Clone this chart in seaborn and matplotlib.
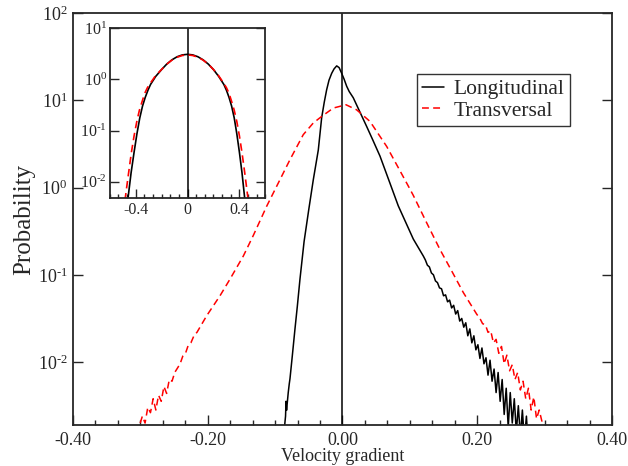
import matplotlib
matplotlib.use("Agg")
import matplotlib.pyplot as plt
import seaborn as sns
import pandas as pd
from matplotlib.ticker import MultipleLocator, NullLocator

sns.set_style("ticks")
plt.rcParams["font.family"] = ["Liberation Serif", "DejaVu Serif"]
plt.rcParams["mathtext.fontset"] = "custom"
plt.rcParams["mathtext.rm"] = "Liberation Serif"
plt.rcParams["axes.unicode_minus"] = False

# ── main panel data (velocity gradient, probability) ──────────────────────
long_x = [-0.0870, -0.0855, -0.0845, -0.0838, -0.0830, -0.0805, -0.0790, -0.0779,
          -0.0745, -0.0705, -0.0670, -0.0631, -0.0570, -0.0500, -0.0433, -0.0359,
          -0.0309, -0.0270, -0.0235, -0.0200, -0.0160, -0.0125, -0.0086, -0.0050,
          -0.0012, 0.0025, 0.0062, 0.0100, 0.0160, 0.0250, 0.0359, 0.0450,
          0.0557, 0.0705, 0.0828, 0.1051, 0.1200,
          0.123, 0.126, 0.129, 0.132, 0.135, 0.138, 0.141, 0.144, 0.147, 0.150,
          0.153, 0.156, 0.159, 0.162, 0.165, 0.168, 0.171, 0.174, 0.177, 0.180,
          0.183, 0.186, 0.189, 0.192, 0.195, 0.198, 0.201, 0.204, 0.207, 0.210,
          0.213, 0.216, 0.219, 0.222, 0.225, 0.228, 0.231, 0.234, 0.237, 0.240,
          0.243, 0.246, 0.249, 0.252, 0.255, 0.258, 0.261, 0.264, 0.267, 0.270,
          0.273, 0.276]
long_p = [0.00126, 0.0020, 0.0024, 0.00355, 0.0028, 0.00447, 0.00562, 0.00646,
          0.0117, 0.0240, 0.0437, 0.0891, 0.240, 0.562, 1.23, 2.69,
          6.31, 9.55, 13.2, 17.0, 20.4, 22.9, 24.8, 23.7,
          20.4, 17.4, 14.5, 12.6, 10.7, 7.59, 5.01, 3.51,
          2.29, 1.12, 0.617, 0.257, 0.164,
          0.148, 0.129, 0.123, 0.105, 0.100, 0.0851, 0.0813, 0.0708, 0.0692, 0.0575,
          0.0589, 0.0490, 0.0513, 0.0417, 0.0447, 0.0355, 0.0389, 0.0295, 0.0316, 0.0251,
          0.0282, 0.0200, 0.0240, 0.0166, 0.0200, 0.0138, 0.0158, 0.0110, 0.0145, 0.00955,
          0.0112, 0.00708, 0.0105, 0.00603, 0.00832, 0.00447, 0.00759, 0.00355, 0.00631, 0.00251,
          0.00501, 0.00178, 0.00447, 0.00200, 0.00380, 0.00158, 0.00316, 0.00141, 0.00282, 0.00126,
          0.00240, 0.00100]

trans_x = [-0.306, -0.301, -0.297, -0.293, -0.289, -0.285, -0.281, -0.277, -0.273,
           -0.269, -0.265, -0.261, -0.257, -0.253, -0.249, -0.245, -0.241, -0.237,
           -0.233, -0.229, -0.225, -0.220, -0.216, -0.2016, -0.1818, -0.167, -0.1472,
           -0.1324, -0.1125, -0.0928, -0.0779, -0.0582, -0.0433, -0.0309, -0.0136,
           0.0052, 0.021, 0.0408, 0.0656, 0.0804, 0.0977, 0.1051, 0.125, 0.1447,
           0.162, 0.1793, 0.1992,
           0.204, 0.208, 0.212, 0.216, 0.220, 0.224, 0.228, 0.232, 0.236, 0.240,
           0.244, 0.248, 0.252, 0.256, 0.260, 0.264, 0.268, 0.272, 0.276, 0.280,
           0.284, 0.288, 0.292, 0.296, 0.300]
trans_p = [0.00112, 0.00191, 0.00240, 0.00200, 0.00302, 0.00263, 0.00380, 0.00282, 0.00417,
           0.00355, 0.00525, 0.00437, 0.00631, 0.00603, 0.00759, 0.00851, 0.00955, 0.0117,
           0.0126, 0.0155, 0.0166, 0.0204, 0.0219, 0.0339, 0.0575, 0.0891, 0.164,
           0.282, 0.611, 1.23, 2.09, 4.04, 5.50, 6.53, 8.15,
           8.89, 7.78, 5.73, 2.96, 1.83, 1.04, 0.813, 0.394, 0.195,
           0.111, 0.0627, 0.0354,
           0.0316, 0.0275, 0.0269, 0.0219, 0.0229, 0.0166, 0.0182, 0.0126, 0.0151, 0.00955,
           0.0120, 0.00794, 0.00933, 0.00631, 0.00759, 0.00479, 0.00603, 0.00380, 0.00501, 0.00282,
           0.00398, 0.00224, 0.00282, 0.00209, 0.00112]

# ── inset data ────────────────────────────────────────────────────────────
in_long_x = [-0.470, -0.458, -0.435, -0.412, -0.390, -0.368, -0.347, -0.326, -0.305,
             -0.285, -0.245, -0.20, -0.16, -0.12, -0.08, -0.04, 0.0,
             0.04, 0.08, 0.12, 0.16, 0.20, 0.24, 0.28, 0.30, 0.32, 0.34,
             0.36, 0.38, 0.40, 0.42, 0.44, 0.45]
in_long_p = [0.00251, 0.00501, 0.0151, 0.0380, 0.0871, 0.178, 0.302, 0.447, 0.617,
             0.80, 1.15, 1.56, 2.00, 2.42, 2.78, 3.02, 3.10,
             3.02, 2.78, 2.42, 2.00, 1.56, 1.15, 0.80, 0.617, 0.447, 0.302,
             0.178, 0.0871, 0.0380, 0.0151, 0.00501, 0.00251]
in_trans_x = [-0.494, -0.474, -0.453, -0.433, -0.412, -0.391, -0.371, -0.350, -0.330,
              -0.309, -0.288, -0.247, -0.20, -0.16, -0.12, -0.08, -0.04, 0.0,
              0.04, 0.08, 0.12, 0.16, 0.20, 0.24, 0.28, 0.30, 0.32, 0.34,
              0.36, 0.38, 0.40, 0.42, 0.44, 0.46, 0.48]
in_trans_p = [0.00251, 0.00631, 0.0158, 0.0372, 0.0794, 0.151, 0.251, 0.372, 0.537,
              0.692, 0.838, 1.18, 1.57, 1.99, 2.39, 2.72, 2.94, 3.02,
              2.94, 2.72, 2.39, 1.99, 1.57, 1.18, 0.838, 0.692, 0.537, 0.372,
              0.251, 0.151, 0.0794, 0.0372, 0.0158, 0.00631, 0.00251]

xticks = [-0.4, -0.2, 0.0, 0.2, 0.4]
xtick_labels = ["-0.40", "-0.20", "0.00", "0.20", "0.40"]
yticks = [1e-2, 1e-1, 1e0, 1e1, 1e2]
ytick_labels = [r"$\mathdefault{10^{‐2}}$", r"$\mathdefault{10^{‐1}}$",
                r"$\mathdefault{10^{0}}$", r"$\mathdefault{10^{1}}$",
                r"$\mathdefault{10^{2}}$"]
in_xticks = [-0.4, 0.0, 0.4]
in_xtick_labels = ["-0.4", "0", "0.4"]
in_yticks = [1e-2, 1e-1, 1e0, 1e1]
in_ytick_labels = ytick_labels[:4]

long_df = pd.DataFrame({"x": long_x, "p": long_p})
trans_df = pd.DataFrame({"x": trans_x, "p": trans_p})
in_long_df = pd.DataFrame({"x": in_long_x, "p": in_long_p})
in_trans_df = pd.DataFrame({"x": in_trans_x, "p": in_trans_p})

RED_DASH = (0, (4.5, 2.8))

fig = plt.figure(figsize=(6.28, 4.66), dpi=100)
ax = fig.add_axes([0.1162, 0.088, 0.8583, 0.884])

sns.lineplot(data=long_df, x="x", y="p", ax=ax, color="black", lw=1.1,
             estimator=None, sort=False, label="Longitudinal")
sns.lineplot(data=trans_df, x="x", y="p", ax=ax, color="#ff0000", lw=1.1,
             linestyle=RED_DASH, estimator=None, sort=False, label="Transversal")
ax.axvline(0, color="black", lw=1.1, zorder=1)

ax.set_yscale("log")
ax.set_xlim(-0.4, 0.4)
ax.set_ylim(0.0019, 100)
ax.set_xticks(xticks, labels=xtick_labels)
ax.xaxis.set_minor_locator(MultipleLocator(0.2 / 6))
ax.set_yticks(yticks, labels=ytick_labels)
ax.yaxis.set_minor_locator(NullLocator())
ax.tick_params(axis="x", which="major", direction="in", length=7, width=1.0,
               labelsize=13, pad=5, top=False)
ax.tick_params(axis="x", which="minor", direction="in", length=3.3, width=1.0, top=False)
ax.tick_params(axis="y", which="major", direction="in", length=7.5, width=1.0,
               labelsize=13, pad=4, left=True, right=True)
for s in ax.spines.values():
    s.set_linewidth(1.3)
    s.set_visible(True)
ax.set_xlabel("Velocity gradient", fontsize=13, labelpad=-1)
ax.set_ylabel("Probability", fontsize=18, labelpad=2)

leg = ax.legend(loc="upper left", bbox_to_anchor=(0.638, 0.852), borderaxespad=0,
                fontsize=15.5, frameon=True, fancybox=False, handlelength=1.0,
                handletextpad=0.45, borderpad=0.25, labelspacing=0.05)
leg.get_frame().set_edgecolor("black")
leg.get_frame().set_linewidth(1.0)

# ── inset ─────────────────────────────────────────────────────────────────
ins = fig.add_axes([0.1747, 0.5758, 0.2478, 0.3635])
ins.set_facecolor("white")
sns.lineplot(data=in_long_df, x="x", y="p", ax=ins, color="black", lw=1.2,
             estimator=None, sort=False, legend=False)
sns.lineplot(data=in_trans_df, x="x", y="p", ax=ins, color="#ff0000", lw=1.2,
             linestyle=RED_DASH, estimator=None, sort=False, legend=False)
ins.axvline(0, color="black", lw=1.1, zorder=1)
ins.set_yscale("log")
ins.set_xlim(-0.6, 0.6)
ins.set_ylim(0.0049, 10)
ins.set_xticks(in_xticks, labels=in_xtick_labels)
ins.xaxis.set_minor_locator(MultipleLocator(0.4 / 6))
ins.set_yticks(in_yticks, labels=in_ytick_labels)
ins.yaxis.set_minor_locator(NullLocator())
ins.tick_params(axis="x", which="major", direction="in", length=6.5, width=1.0,
                labelsize=11.5, pad=3, top=False)
ins.tick_params(axis="x", which="minor", direction="in", length=3.2, width=1.0, top=False)
ins.tick_params(axis="y", which="major", direction="in", length=6.5, width=1.0,
                labelsize=11.5, pad=2, left=True, right=True)
ins.set_xlabel("")
ins.set_ylabel("")
for s in ins.spines.values():
    s.set_linewidth(1.3)
    s.set_visible(True)

fig.savefig("out.png", dpi=100)
